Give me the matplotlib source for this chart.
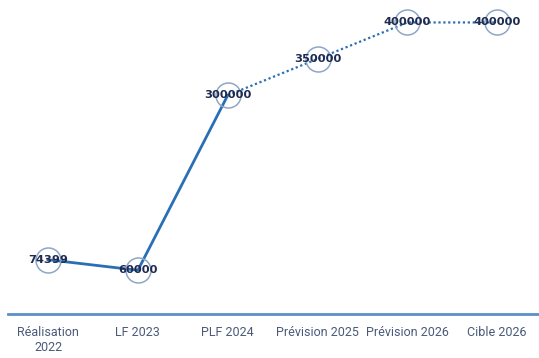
import matplotlib
matplotlib.use("Agg")
import matplotlib.pyplot as plt

categories = ["Réalisation\n2022", "LF 2023", "PLF 2024", "Prévision 2025", "Prévision 2026", "Cible 2026"]
values = [74399, 60000, 300000, 350000, 400000, 400000]
solid_count = 3  # first three points joined by solid line, rest dotted

fig = plt.figure(figsize=(5.39, 3.58), dpi=100)
ax = fig.add_axes([0.0, 0.123, 1.0, 0.855])
x = list(range(len(categories)))

line_color = "#2a6fb5"
ax.plot(x[:solid_count], values[:solid_count], color=line_color, lw=2.0, zorder=2)
ax.plot(x[solid_count - 1:], values[solid_count - 1:], color=line_color, lw=1.6, ls=(0, (1, 1.2)), zorder=2)
ax.plot(x, values, ls="none", marker="o", ms=18, mfc="none", mec="#8fa6c6", mew=1.1, zorder=3)
for xi, v in zip(x, values):
    ax.text(xi, v, f"{v}", ha="center", va="center", fontsize=8.2, fontweight="heavy",
            color="#1e2a4f", zorder=4)

ax.set_xlim(-0.535, 5.465)
ax.set_ylim(0, 420000)
ax.set_yticks([])
ax.set_xticks(x)
ax.set_xticklabels(categories, fontsize=9, color="#4a5a78", family=["Roboto", "DejaVu Sans"])
ax.tick_params(axis="x", length=0, pad=9)
for s in ["top", "right", "left"]:
    ax.spines[s].set_visible(False)
ax.spines["bottom"].set_color("#5b8fc7")
ax.spines["bottom"].set_linewidth(2)
ax.spines["bottom"].set_bounds(-0.45, 5.465)

fig.savefig("out.png", dpi=100)
